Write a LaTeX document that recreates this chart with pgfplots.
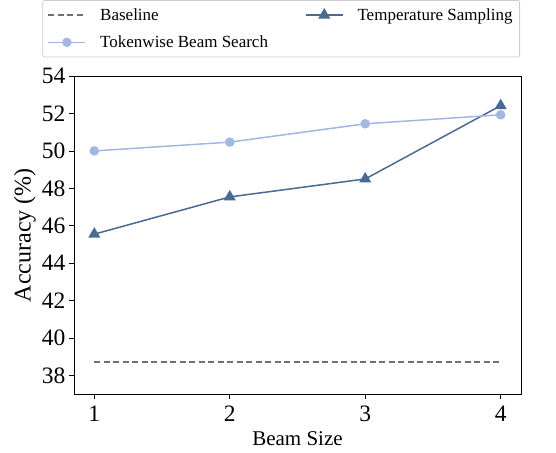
\documentclass[border=0pt]{standalone}
\usepackage{fontspec}
\setmainfont{Liberation Serif}
\usepackage{pgfplots}
\pgfplotsset{compat=1.18}

\definecolor{tokc}{RGB}{163,183,227}
\definecolor{tempc}{RGB}{74,106,150}
\definecolor{basec}{RGB}{112,112,112}
\definecolor{legc}{RGB}{204,204,204}

\begin{document}
\begin{tikzpicture}
\begin{axis}[
    scale only axis,
    width=447pt, height=318pt,
    xmin=0.85, xmax=4.15,
    ymin=37, ymax=54,
    xtick={1,2,3,4},
    xticklabels={1,2,3,4},
    ytick={38,40,42,44,46,48,50,52,54},
    yticklabels={38,40,42,44,46,48,50,52,54},
    xtick pos=bottom, ytick pos=left,
    tick align=outside,
    major tick length=5pt,
    tick style={black, line width=0.8pt},
    axis line style={line width=0.8pt},
    ticklabel style={font=\rmfamily\fontsize{23.5}{27}\selectfont},
    xticklabel style={yshift=-3.5pt},
    xlabel={Beam Size},
    ylabel={Accuracy (\%)},
    every axis x label/.style={at={(rel axis cs:0.5,0)}, anchor=base, yshift=-51.7pt, font=\fontsize{21}{25}\selectfont},
    every axis y label/.style={at={(rel axis cs:0,0.5)}, anchor=center, rotate=90, yshift=49pt, font=\fontsize{24}{28}\selectfont},
    legend columns=2,
    legend image code/.code={\draw[mark repeat=2,mark phase=2,#1] plot coordinates {(0pt,0pt) (18.5pt,0pt) (37pt,0pt)};},
    legend style={
        at={(rel axis cs:1,1)}, anchor=south east, xshift=-1pt, yshift=18.7pt,
        draw=legc, line width=0.8pt, rounded corners=2pt,
        inner xsep=5pt, inner ysep=6pt,
        font=\fontsize{17}{20}\selectfont,
        row sep=10pt,
        /tikz/every odd column/.append style={column sep=12pt},
        /tikz/every even column/.append style={column sep=35pt},
    },
    legend cell align=left,
]
\coordinate (o) at (rel axis cs:0,0);
\addplot[basec, line width=1.5pt, dash pattern=on 6pt off 3.5pt] coordinates {
    (1,38.71) (4,38.71)
};
\addlegendentry{Baseline}
\addplot[tempc, line width=1.5pt, mark=triangle*, mark size=5.5pt, mark options={solid}] coordinates {
    (1,45.55) (2,47.54) (3,48.50) (4,52.42)
};
\addlegendentry{Temperature Sampling}
\addplot[tokc, line width=1.5pt, mark=*, mark size=4pt, mark options={solid}] coordinates {
    (1,50.00) (2,50.47) (3,51.45) (4,51.93)
};
\addlegendentry{Tokenwise Beam Search}
\end{axis}
\path (o) ++(-74pt,-58pt) (o) ++(482pt,394pt);
\end{tikzpicture}
\end{document}
